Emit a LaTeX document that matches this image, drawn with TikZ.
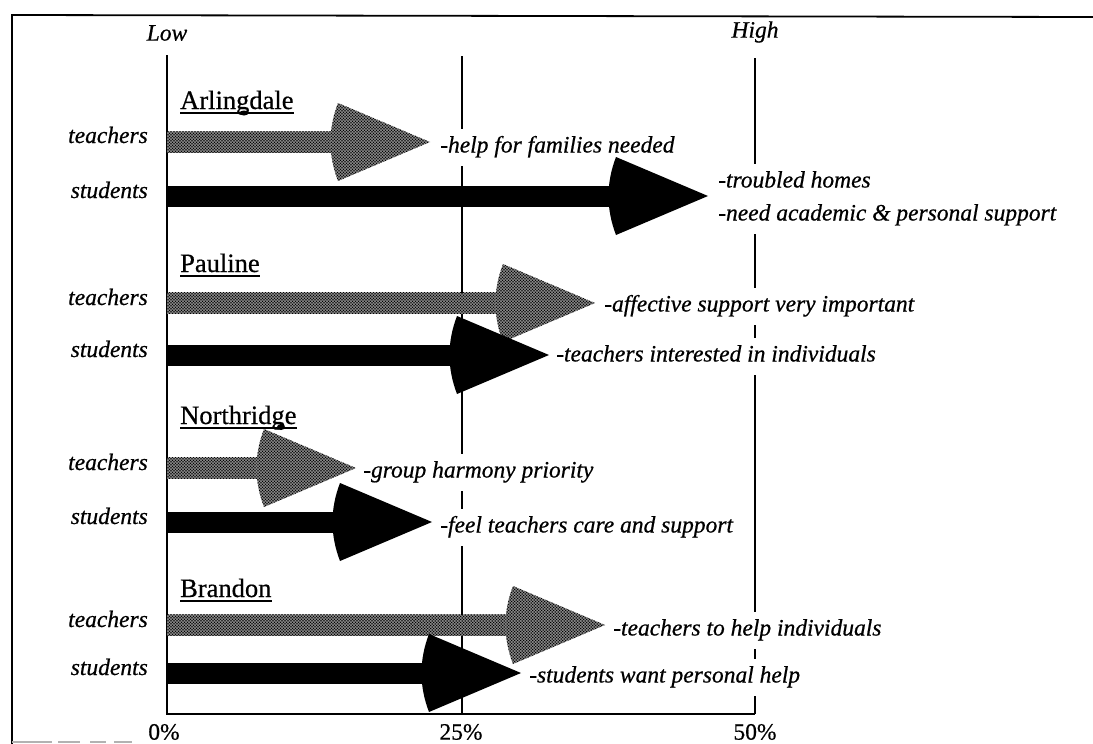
\documentclass[tikz,border=0pt]{standalone}
\usepackage{fontspec}
\setmainfont{Liberation Serif}[FakeBold=0.6]
\usetikzlibrary{patterns}

% halftone screen used for the teachers' bars
\pgfdeclarepatternformonly{halftone}{\pgfqpoint{-1pt}{-1pt}}{\pgfqpoint{4pt}{4pt}}{\pgfqpoint{3pt}{3pt}}{%
  \pgfpathcircle{\pgfqpoint{0pt}{0pt}}{1.0pt}%
  \pgfpathcircle{\pgfqpoint{1.5pt}{1.5pt}}{1.0pt}%
  \pgfusepath{fill}}

\tikzset{
  frameline/.style={line width=1.8pt},
  axisline/.style={line width=2.6pt},
  gridline/.style={line width=2.4pt},
  teacherbar/.style={preaction={fill=gray!45}, pattern=halftone, pattern color=black},
  studentbar/.style={fill=black},
  rowlabel/.style={font=\itshape\fontsize{23.5}{28}\selectfont, anchor=base east, inner sep=0pt},
  remark/.style={font=\itshape\fontsize{23.5}{28}\selectfont, anchor=west, fill=white,
    inner xsep=2pt, inner ysep=7pt, text height=17pt, text depth=6pt},
  school/.style={font=\fontsize{26.5}{30}\selectfont, anchor=base west, inner sep=0pt},
  scalelabel/.style={font=\fontsize{23.5}{28}\selectfont, inner sep=0pt},
  endlabel/.style={font=\itshape\fontsize{23.5}{28}\selectfont, inner sep=0pt},
}

% bar with a broad arrow head: #1 style, #2 row (y), #3 tip (x)
\newcommand{\ratingbar}[3]{%
  \fill[#1] (167,#2-10.5) rectangle (#3-97,#2+10.5);
  \fill[#1] (#3-92,#2-39) -- (#3,#2) -- (#3-92,#2+39)
    .. controls (#3-102,#2+13) and (#3-102,#2-13) .. (#3-92,#2-39) -- cycle;
}

% underlined school name: #1 node name, #2 baseline (y), #3 text
\newcommand{\schoolname}[3]{%
  \node[school] (#1) at (180,#2) {#3};
  \draw[line width=1.2pt] ([yshift=-4pt]#1.base west) -- ([yshift=-4pt]#1.base east);
}

\begin{document}
\begin{tikzpicture}[x=1pt,y=-1pt]
  \useasboundingbox (0,0) rectangle (1093,744);

  % outer frame
  \draw[frameline] (1093,17) -- (12,15) -- (12,744);
  \draw[gray!60, line width=1.2pt, dash pattern=on 40pt off 6pt on 22pt off 10pt on 16pt off 8pt] (12,742) -- (132,742);

  % scale
  \node[endlabel] (low) at (167,33) {Low};
  \node[endlabel] (high) at (755,32) {High};
  \coordinate (o) at (167,714);
  \coordinate (otop) at (167,55);
  \coordinate (q) at (462,714);
  \coordinate (qtop) at (462,56);
  \coordinate (h) at (755,714);
  \coordinate (htop) at (755,58);
  \draw[gridline] (qtop) -- (q);
  \draw[gridline] (htop) -- (h);
  \draw[axisline] (otop) -- (o) -- (h);
  \node[scalelabel] (p0) at (164,732) {0\%};
  \node[scalelabel] (p25) at (461,732) {25\%};
  \node[scalelabel] (p50) at (755,732) {50\%};

  % remarks (white boxes interrupt the grid lines)
  \node[remark] (r1) at (438,147) {-help for families needed};
  \node[remark] (r2a) at (716,182) {-troubled homes};
  \node[remark] (r2b) at (716,215) {-need academic \& personal support};
  \node[remark] (r3) at (602,306) {-affective support very important};
  \node[remark] (r4) at (554,356) {-teachers interested in individuals};
  \node[remark] (r5) at (361,472) {-group harmony priority};
  \node[remark] (r6) at (438,527) {-feel teachers care and support};
  \node[remark] (r7) at (611,630) {-teachers to help individuals};
  \node[remark] (r8) at (527,677) {-students want personal help};

  % Arlingdale
  \schoolname{arl}{109}{Arlingdale}
  \fill (244,113) ellipse (4.5 and 2.5);
  \node[rowlabel] (arlt) at (148,143) {teachers};
  \node[rowlabel] (arls) at (148,198) {students};
  \ratingbar{teacherbar}{142}{430}
  \ratingbar{studentbar}{196}{708}

  % Pauline
  \schoolname{pau}{272}{Pauline}
  \node[rowlabel] (paut) at (148,305) {teachers};
  \node[rowlabel] (paus) at (148,357) {students};
  \ratingbar{teacherbar}{303}{595}
  \ratingbar{studentbar}{355}{549}

  % Northridge
  \schoolname{nor}{424}{Northridge}
  \node[rowlabel] (nort) at (148,470) {teachers};
  \node[rowlabel] (nors) at (148,524) {students};
  \ratingbar{teacherbar}{468}{356}
  \ratingbar{studentbar}{522}{432}
  \fill (281,427) ellipse (4 and 3);

  % Brandon
  \schoolname{bra}{597}{Brandon}
  \node[rowlabel] (brat) at (148,627) {teachers};
  \node[rowlabel] (bras) at (148,675) {students};
  \ratingbar{teacherbar}{625}{605}
  \ratingbar{studentbar}{673}{521}
\end{tikzpicture}
\end{document}
